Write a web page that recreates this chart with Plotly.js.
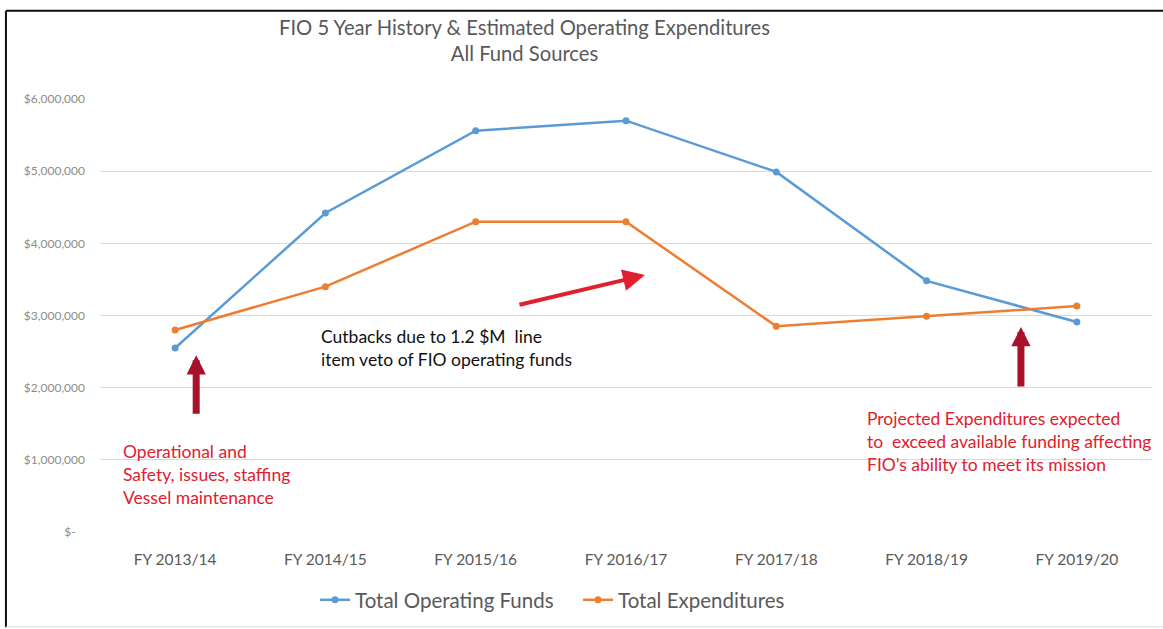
<html><head>
<style>
body { margin: 0; background: white; }
#chart { width: 1163px; height: 629px; }
</style>
<script src="https://cdn.plot.ly/plotly-3.0.1.min.js"></script>
</head>
<body>
<div id="chart"></div>
<script>
// values
const years = ['FY 2013/14', 'FY 2014/15', 'FY 2015/16', 'FY 2016/17', 'FY 2017/18', 'FY 2018/19', 'FY 2019/20'];
const operatingFunds = [2550000, 4420000, 5560000, 5700000, 4990000, 3480000, 2910000];
const expenditures = [2800000, 3400000, 4300000, 4300000, 2850000, 2990000, 3130000];
const yTicks = [0, 1000000, 2000000, 3000000, 4000000, 5000000, 6000000];
const yTickText = ['$-&nbsp;&nbsp;&nbsp;', '$1,000,000', '$2,000,000', '$3,000,000', '$4,000,000', '$5,000,000', '$6,000,000'];

const font = 'Lato, "Open Sans", sans-serif';
const red = '#e0202e';
const darkRed = '#a8102c';

const data = [
  {
    x: years, y: operatingFunds, name: 'Total Operating Funds',
    type: 'scatter', mode: 'lines+markers',
    line: {color: '#5b9bd5', width: 2.5}, marker: {color: '#5b9bd5', size: 7}
  },
  {
    x: years, y: expenditures, name: 'Total Expenditures',
    type: 'scatter', mode: 'lines+markers',
    line: {color: '#ed7d31', width: 2.5}, marker: {color: '#ed7d31', size: 7}
  }
];

const layout = {
  width: 1163, height: 629,
  margin: {l: 100, r: 11, t: 99, b: 97, autoexpand: false},
  paper_bgcolor: 'white', plot_bgcolor: 'white',
  font: {family: font, color: '#595959'},
  title: {
    text: 'FIO 5 Year History & Estimated Operating Expenditures<br>All Fund Sources',
    x: 0.451, xanchor: 'center', y: 0.945, yanchor: 'top',
    font: {size: 20.2, color: '#595959', family: font}
  },
  xaxis: {
    type: 'category', range: [-0.5, 6.5], showgrid: false, zeroline: false, showline: false,
    tickfont: {size: 15.5, color: '#595959'}, ticklabelstandoff: 16
  },
  yaxis: {
    range: [0, 6000000], tickvals: yTicks, ticktext: yTickText,
    gridcolor: '#d9d9d9', gridwidth: 1, zeroline: false, showline: false,
    tickfont: {size: 12, color: '#8c8c8c'}, ticklabelstandoff: 14
  },
  showlegend: true,
  legend: {
    orientation: 'h', x: 0.2044, xanchor: 'left', y: -0.157, yanchor: 'middle',
    font: {size: 20.5, color: '#595959'}, itemwidth: 30,
    entrywidth: 218, entrywidthmode: 'pixels'
  },
  annotations: [
    {xref: 'x', yref: 'y', x: 0.14, y: 2450000, ax: 0, ay: 60, text: '',
     showarrow: true, arrowhead: 2, arrowsize: 0.55, arrowwidth: 7, arrowcolor: darkRed},
    {xref: 'x', yref: 'y', x: 5.628, y: 2840000, ax: 0, ay: 61, text: '',
     showarrow: true, arrowhead: 2, arrowsize: 0.55, arrowwidth: 7, arrowcolor: darkRed},
    {xref: 'x', yref: 'y', x: 3.126, y: 3560000, ax: -127, ay: 30, text: '',
     showarrow: true, arrowhead: 2, arrowsize: 1.1, arrowwidth: 4, arrowcolor: red},
    {xref: 'paper', yref: 'paper', x: 0.02, y: 0.215, xanchor: 'left', yanchor: 'top',
     align: 'left', showarrow: false, font: {size: 17.5, color: red},
     text: 'Operational and<br>Safety, issues, staffing<br>Vessel maintenance'},
    {xref: 'paper', yref: 'paper', x: 0.208, y: 0.48, xanchor: 'left', yanchor: 'top',
     align: 'left', showarrow: false, font: {size: 17.5, color: '#111111'},
     text: 'Cutbacks due to 1.2 $M&nbsp; line<br>item veto of FIO operating funds'},
    {xref: 'paper', yref: 'paper', x: 0.727, y: 0.292, xanchor: 'left', yanchor: 'top',
     align: 'left', showarrow: false, font: {size: 17.5, color: red},
     text: 'Projected Expenditures expected<br>to&nbsp; exceed available funding affecting<br>FIO\u2019s ability to meet its mission'}
  ],
  shapes: [
    {type: 'line', xref: 'paper', yref: 'paper', x0: -0.0894, x1: 1.02, y0: 1.204, y1: 1.204,
     line: {color: '#111111', width: 2}},
    {type: 'line', xref: 'paper', yref: 'paper', x0: -0.0894, x1: -0.0894, y0: 1.204, y1: -0.22,
     line: {color: '#111111', width: 2}},
    {type: 'line', xref: 'paper', yref: 'paper', x0: -0.0894, x1: 1.02, y0: -0.219, y1: -0.219,
     line: {color: '#dddddd', width: 1}}
  ]
};

Plotly.newPlot('chart', data, layout, {displayModeBar: false, responsive: false});
</script>
</body></html>
